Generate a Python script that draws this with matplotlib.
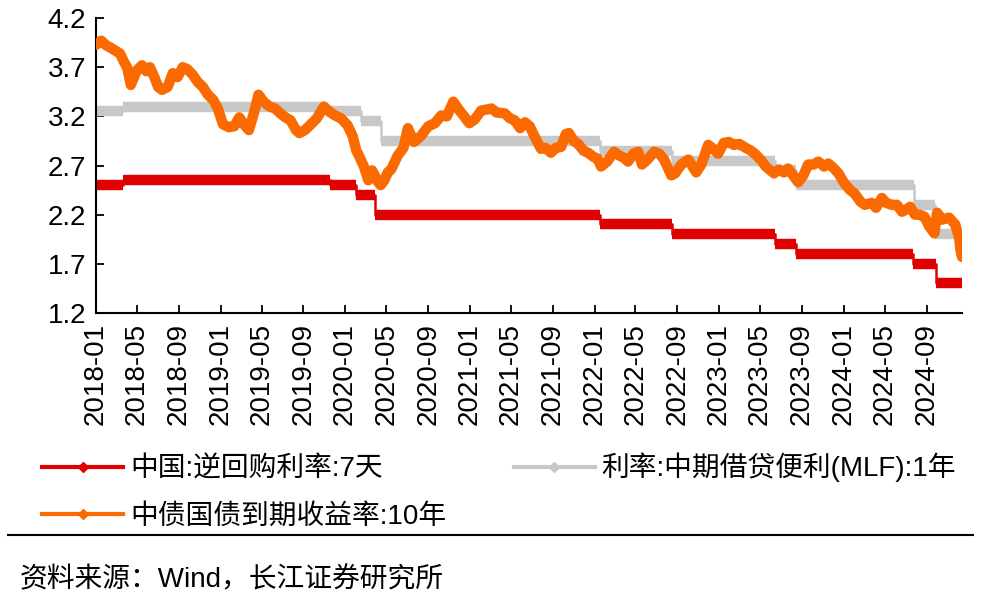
import numpy as np
import pandas as pd
import matplotlib
matplotlib.use('Agg')
import matplotlib.pyplot as plt
import matplotlib.dates as mdates
from matplotlib.lines import Line2D

# policy rates: change dates and levels (step series)
repo_dates = ['2018-01-02', '2018-03-22', '2019-11-18', '2020-02-03', '2020-03-30',
              '2022-01-17', '2022-08-15', '2023-06-13', '2023-08-15', '2024-07-22', '2024-09-27']
repo_vals = [2.50, 2.55, 2.50, 2.40, 2.20, 2.10, 2.00, 1.90, 1.80, 1.70, 1.50]

mlf_dates = ['2018-01-02', '2018-03-22', '2019-11-05', '2020-02-17', '2020-04-15',
             '2022-01-17', '2022-08-15', '2023-06-15', '2023-08-15', '2024-07-25', '2024-09-25']
mlf_vals = [3.25, 3.30, 3.25, 3.15, 2.95, 2.85, 2.75, 2.65, 2.50, 2.30, 2.00]

end_date = '2024-12-13'

# 10y government bond yield
bond_dates = [
    '2018-01-02', '2018-01-16', '2018-02-01', '2018-02-12', '2018-02-26', '2018-03-12', '2018-03-26',
    '2018-04-02', '2018-04-13', '2018-04-20', '2018-05-01', '2018-05-16', '2018-05-28', '2018-06-08',
    '2018-06-22', '2018-07-02', '2018-07-13', '2018-07-30', '2018-08-14', '2018-08-28', '2018-09-12',
    '2018-09-26', '2018-10-12', '2018-10-26', '2018-11-10', '2018-11-25', '2018-12-10', '2018-12-24',
    '2019-01-08', '2019-01-25', '2019-02-10', '2019-02-25', '2019-03-10', '2019-03-25', '2019-04-10',
    '2019-04-22', '2019-05-10', '2019-05-25', '2019-06-10', '2019-06-25', '2019-07-10', '2019-07-25',
    '2019-08-10', '2019-08-20', '2019-09-05', '2019-09-20', '2019-10-10', '2019-10-31', '2019-11-15',
    '2019-12-02', '2019-12-20', '2020-01-08', '2020-01-23', '2020-02-03', '2020-02-12', '2020-02-25',
    '2020-03-09', '2020-03-20', '2020-04-07', '2020-04-14', '2020-04-25', '2020-05-05', '2020-05-15',
    '2020-06-03', '2020-06-20', '2020-07-03', '2020-07-21', '2020-08-10', '2020-09-01', '2020-09-20',
    '2020-10-09', '2020-10-25', '2020-11-13', '2020-12-01', '2020-12-15', '2020-12-30', '2021-01-15',
    '2021-02-03', '2021-02-20', '2021-03-05', '2021-03-20', '2021-04-13', '2021-04-28', '2021-05-12',
    '2021-05-28', '2021-06-11', '2021-06-25', '2021-07-10', '2021-07-28', '2021-08-10', '2021-08-26',
    '2021-09-10', '2021-09-25', '2021-10-09', '2021-10-18', '2021-11-01', '2021-11-14', '2021-11-30',
    '2021-12-13', '2021-12-28', '2022-01-10', '2022-01-20', '2022-02-07', '2022-02-27', '2022-03-15',
    '2022-03-28', '2022-04-09', '2022-04-25', '2022-05-09', '2022-05-20', '2022-06-05', '2022-06-25',
    '2022-07-10', '2022-07-24', '2022-08-14', '2022-08-25', '2022-09-12', '2022-10-03', '2022-10-26',
    '2022-11-10', '2022-11-30', '2022-12-15', '2022-12-29', '2023-01-15', '2023-01-30', '2023-02-13',
    '2023-03-01', '2023-03-20', '2023-04-05', '2023-04-19', '2023-05-05', '2023-05-18', '2023-06-11',
    '2023-06-25', '2023-07-10', '2023-07-22', '2023-08-21', '2023-09-05', '2023-09-19', '2023-10-05',
    '2023-10-19', '2023-11-05', '2023-11-17', '2023-12-01', '2023-12-17', '2024-01-03', '2024-01-20',
    '2024-02-01', '2024-02-20', '2024-03-03', '2024-03-23', '2024-04-05', '2024-04-22', '2024-05-05',
    '2024-05-21', '2024-06-05', '2024-06-20', '2024-07-01', '2024-07-14', '2024-07-28', '2024-08-10',
    '2024-08-25', '2024-09-08', '2024-09-23', '2024-10-01', '2024-10-16', '2024-11-05', '2024-11-23',
    '2024-12-05', '2024-12-08', '2024-12-13']
bond_vals = [
    3.93, 3.97, 3.92, 3.90, 3.87, 3.84, 3.74,
    3.70, 3.52, 3.58, 3.67, 3.72, 3.66, 3.70,
    3.59, 3.50, 3.47, 3.50, 3.64, 3.60, 3.70,
    3.68, 3.62, 3.55, 3.50, 3.42, 3.37, 3.28,
    3.12, 3.09, 3.10, 3.19, 3.12, 3.06, 3.25,
    3.42, 3.34, 3.30, 3.28, 3.23, 3.19, 3.16,
    3.06, 3.03, 3.06, 3.11, 3.18, 3.30, 3.25,
    3.21, 3.18, 3.11, 3.00, 2.85, 2.79, 2.69,
    2.55, 2.65, 2.53, 2.50, 2.55, 2.63, 2.66,
    2.80, 2.88, 3.08, 2.94, 3.00, 3.10, 3.13,
    3.21, 3.20, 3.35, 3.26, 3.20, 3.13, 3.17,
    3.26, 3.27, 3.28, 3.24, 3.23, 3.18, 3.16,
    3.08, 3.14, 3.10, 2.99, 2.87, 2.88, 2.83,
    2.88, 2.89, 3.02, 3.03, 2.95, 2.92, 2.85,
    2.83, 2.79, 2.77, 2.69, 2.74, 2.84, 2.80,
    2.78, 2.74, 2.82, 2.84, 2.71, 2.76, 2.84,
    2.82, 2.76, 2.60, 2.62, 2.71, 2.76, 2.63,
    2.71, 2.91, 2.87, 2.82, 2.93, 2.94, 2.91,
    2.92, 2.88, 2.85, 2.81, 2.75, 2.69, 2.62,
    2.66, 2.63, 2.67, 2.53, 2.60, 2.71, 2.71,
    2.74, 2.69, 2.72, 2.68, 2.62, 2.52, 2.45,
    2.42, 2.33, 2.30, 2.32, 2.27, 2.37, 2.32,
    2.30, 2.30, 2.23, 2.25, 2.28, 2.20, 2.20,
    2.18, 2.08, 2.01, 2.22, 2.15, 2.17, 2.10,
    1.96, 1.85, 1.77]

labels = ['中国:逆回购利率:7天', '利率:中期借贷便利(MLF):1年', '中债国债到期收益率:10年']
c_red = '#E00000'
c_gray = '#C8C8C8'
c_orange = '#FA6A00'

plt.rcParams['font.family'] = ['Liberation Sans', 'Noto Sans CJK SC']
plt.rcParams['font.size'] = 20

fig = plt.figure(figsize=(9.88, 6.03), dpi=100)
ax = fig.add_axes([0.0972, 0.481, 0.8765, 0.489])

end = pd.Timestamp(end_date)


def draw_step(dates, vals, color):
    d = list(pd.to_datetime(dates))
    ends = d[1:] + [end]
    ax.plot(d + [end], vals + [vals[-1]], drawstyle='steps-post', lw=1.8, color=color, zorder=2)
    ax.hlines(vals, d, ends, colors=color, lw=7.5, zorder=2)


draw_step(repo_dates, repo_vals, c_red)
draw_step(mlf_dates, mlf_vals, c_gray)
ax.plot(pd.to_datetime(bond_dates), bond_vals, color=c_orange, lw=7.5,
        solid_joinstyle='round', solid_capstyle='round', zorder=4)

ax.set_xlim(pd.Timestamp('2018-01-01'), end)
ax.set_ylim(1.2, 4.2)
ax.set_yticks(np.arange(1.2, 4.21, 0.5))
ax.yaxis.set_major_formatter(plt.FormatStrFormatter('%.1f'))
ax.xaxis.set_major_locator(mdates.MonthLocator(bymonth=[1, 5, 9]))
ax.xaxis.set_major_formatter(mdates.DateFormatter('%Y-%m'))
ax.tick_params(axis='x', labelrotation=90)
ax.tick_params(direction='in', length=6, width=1.3, pad=7, labelsize=20)

for s in ['top', 'right']:
    ax.spines[s].set_visible(False)
for s in ['left', 'bottom']:
    ax.spines[s].set_linewidth(1.5)

h_red = Line2D([0], [0], color=c_red, lw=3, marker='D', ms=5)
h_gray = Line2D([0], [0], color=c_gray, lw=3, marker='D', ms=5)
h_orange = Line2D([0], [0], color=c_orange, lw=3, marker='D', ms=5)
ax.legend([h_red, h_orange, h_gray], [labels[0], labels[2], labels[1]], ncol=2,
          loc='upper left', bbox_to_anchor=(0.043, 0.249), bbox_transform=fig.transFigure,
          frameon=False, handlelength=2.9, handletextpad=0.25, columnspacing=2.45,
          labelspacing=0.78, borderpad=0, borderaxespad=0, fontsize=20)

fig.add_artist(Line2D([0.008, 0.985], [0.1128, 0.1128], color='black', lw=1.5,
                      transform=fig.transFigure))
fig.text(0.02, 0.038, '资料来源：Wind，长江证券研究所', va='center', ha='left', fontsize=20)

fig.savefig('out.png', dpi=100)
